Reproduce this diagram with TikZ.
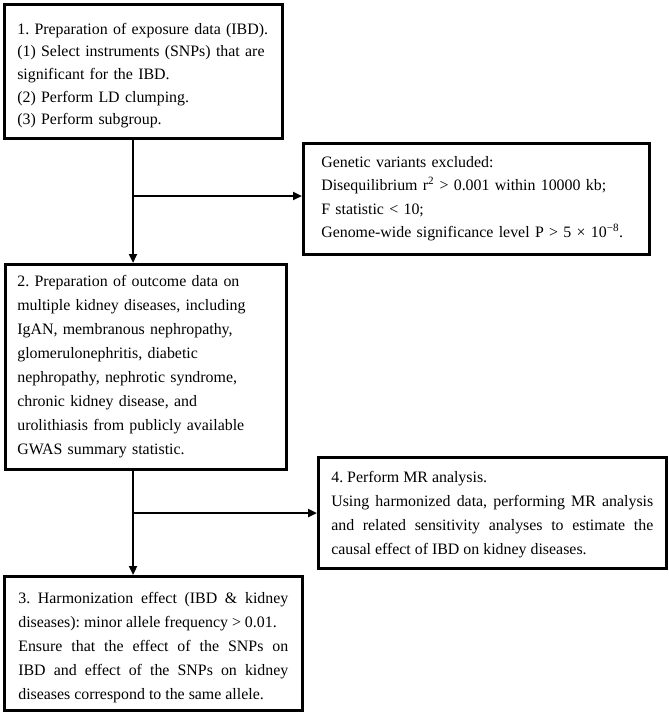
\documentclass[tikz,border=0pt]{standalone}
\usepackage{fontspec}
\setmainfont{Liberation Serif}
\usetikzlibrary{arrows.meta}
\frenchspacing
\hyphenpenalty=10000
\exhyphenpenalty=10000
\newcommand{\topgap}[1]{\rule{0pt}{#1}}
\tikzset{
  box/.style={draw, line width=2.6bp, anchor=north west, inner ysep=0pt,
    font=\fontsize{15.9bp}{23.5bp}\selectfont\frenchspacing},
  arr/.style={line width=2.6bp, -{Triangle[length=9bp,width=8bp]}}
}
\begin{document}
\begin{tikzpicture}[x=1bp,y=-1bp]
\useasboundingbox (0,0) rectangle (669,713);
\node[box, inner xsep=13bp, text width=252bp, minimum height=134bp, align=left, font=\fontsize{15.9bp}{22.6bp}\selectfont\frenchspacing] (b1) at (3,3)
 {\topgap{20bp}1. Preparation of exposure data (IBD).\\
  (1) Select instruments (SNPs) that are\\
  significant for the IBD.\\
  (2) Perform LD clumping.\\
  (3) Perform subgroup.};
\node[box, inner xsep=18bp, text width=310bp, minimum height=111bp, align=left] (ex) at (302,142)
 {Genetic variants excluded:\\
  Disequilibrium r\textsuperscript{2} > 0.001 within 10000 kb;\\
  F statistic < 10;\\
  Genome-wide significance level P > 5 × 10\textsuperscript{−8}.};
\node[box, inner xsep=12bp, text width=257bp, minimum height=205bp, align=left, font=\fontsize{15.9bp}{24bp}\selectfont\frenchspacing] (b2) at (4,263)
 {2. Preparation of outcome data on\\
  multiple kidney diseases, including\\
  IgAN, membranous nephropathy,\\
  glomerulonephritis, diabetic\\
  nephropathy, nephrotic syndrome,\\
  chronic kidney disease, and\\
  urolithiasis from publicly available\\
  GWAS summary statistic.};
\node[box, inner xsep=13bp, text width=322bp, minimum height=111bp, align=justify, font=\fontsize{15.9bp}{24bp}\selectfont\frenchspacing] (b4) at (317,456)
 {\topgap{14bp}4. Perform MR analysis.\\
  Using harmonized data, performing MR analysis\linebreak and related sensitivity analyses to estimate the\linebreak causal effect of IBD on kidney diseases.};
\node[box, inner xsep=14bp, text width=270bp, minimum height=134bp, align=justify, font=\fontsize{15.9bp}{24bp}\selectfont\frenchspacing] (b3) at (3,575)
 {\topgap{19bp}3. Harmonization effect (IBD \& kidney\linebreak diseases): minor allele frequency > 0.01.\\
  Ensure that the effect of the SNPs on\linebreak IBD and effect of the SNPs on kidney\linebreak diseases correspond to the same allele.};
\coordinate (j1) at (133,196);
\coordinate (j2) at (133,513);
\draw[arr] (b1.south -| j1) -- (b2.north -| j1);
\draw[arr] (j1) -- (ex.west |- j1);
\draw[arr] (b2.south -| j2) -- (b3.north -| j2);
\draw[arr] (j2) -- (b4.west |- j2);
\end{tikzpicture}
\end{document}
